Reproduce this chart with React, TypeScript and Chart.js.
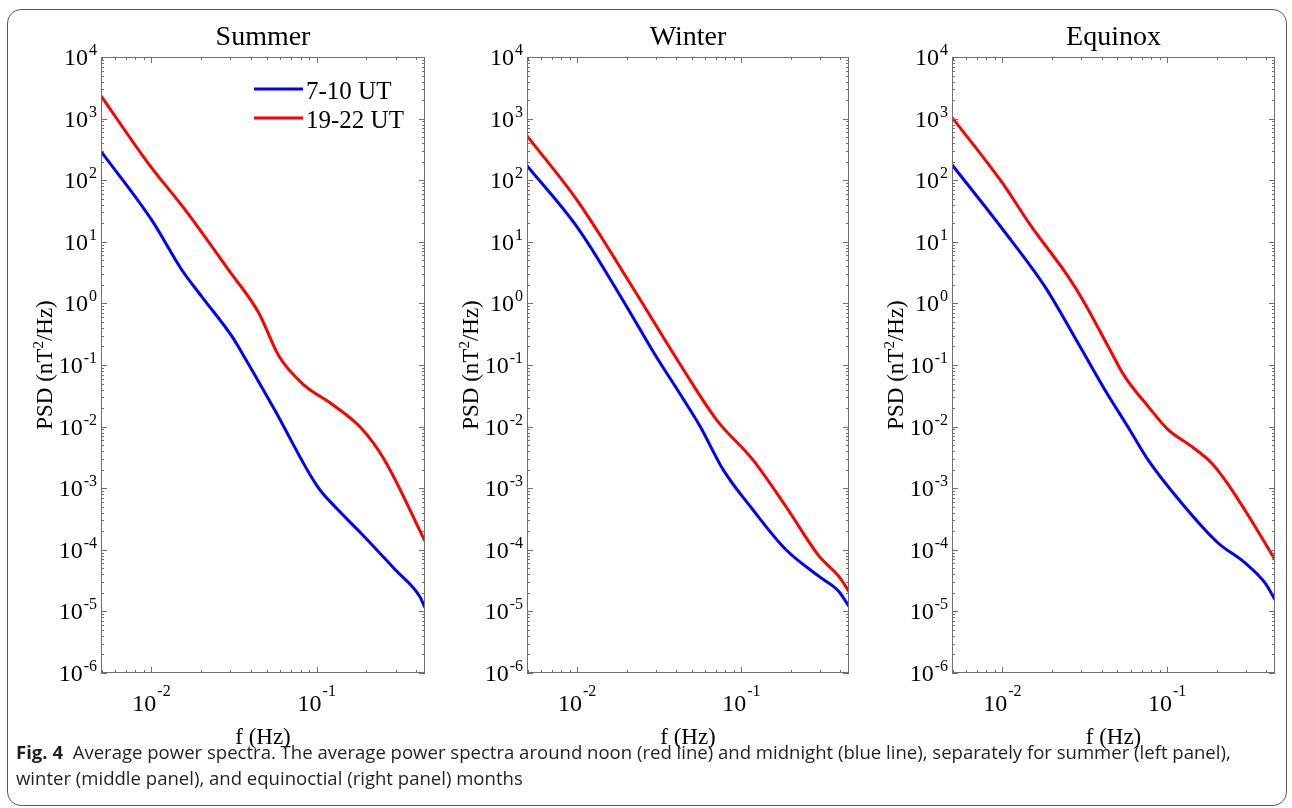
import React, { useEffect, useRef, useMemo } from "react";
import { Chart, registerables } from "chart.js";

Chart.register(...registerables);

// ---------------- data ----------------
const panelTitles = ["Summer", "Winter", "Equinox"];
const legendLabels = ["7-10 UT", "19-22 UT"];
const seriesColors = ["#0000ff", "#ff0000"];
const xAxisTitle = "f (Hz)";
const yAxisTitleParts = ["PSD (nT", "2", "/Hz)"];
const xTickExponents = [-2, -1];
const yTickExponents = [-6, -5, -4, -3, -2, -1, 0, 1, 2, 3, 4];
const xMin = 0.00495;
const xMax = 0.452;
const yMin = 1e-6;
const yMax = 1e4;

const summerBlueF = [0.00495, 0.01, 0.01524, 0.0201, 0.0307, 0.0353, 0.0556, 0.1009, 0.134, 0.1854, 0.3, 0.42, 0.452];
const summerBlueP = [294, 22.9, 3.52, 1.3, 0.291, 0.157, 0.0188, 1.07e-3, 4.5e-4, 1.86e-4, 4.7e-5, 1.75e-5, 1.15e-5];
const summerRedF = [0.00495, 0.00953, 0.01596, 0.0292, 0.0446, 0.059, 0.0818, 0.127, 0.185, 0.257, 0.452];
const summerRedP = [2344, 190, 33.2, 3.52, 0.7, 0.14, 0.05, 0.022, 0.00955, 0.00288, 1.38e-4];

const winterBlueF = [0.00495, 0.0101, 0.0189, 0.0293, 0.0445, 0.056, 0.0774, 0.1175, 0.187, 0.297, 0.392, 0.452];
const winterBlueP = [172, 16.7, 1.15, 0.158, 0.0274, 0.0101, 0.002, 4.47e-4, 1e-4, 3.7e-5, 2.11e-5, 1.2e-5];
const winterRedF = [0.00495, 0.0101, 0.0222, 0.0425, 0.0706, 0.1175, 0.187, 0.297, 0.392, 0.452];
const winterRedP = [525, 45.3, 1.67, 0.101, 0.0129, 0.00288, 5.0e-4, 7.9e-5, 3.7e-5, 2.1e-5];

const equinoxBlueF = [0.00495, 0.0101, 0.0181, 0.0288, 0.0419, 0.0593, 0.0767, 0.128, 0.204, 0.296, 0.393, 0.452];
const equinoxBlueP = [178, 15.7, 1.89, 0.228, 0.0398, 0.0089, 0.00288, 5.0e-4, 1.29e-4, 6.2e-5, 2.9e-5, 1.55e-5];
const equinoxRedF = [0.00495, 0.00986, 0.015, 0.02506, 0.0316, 0.0439, 0.0553, 0.0767, 0.1014, 0.1406, 0.186, 0.224, 0.296, 0.393, 0.452];
const equinoxRedP = [1050, 95.5, 17.8, 2.74, 1.01, 0.2, 0.0653, 0.0213, 0.00891, 0.00479, 0.00257, 0.00138, 4.47e-4, 1.29e-4, 6.9e-5];

const captionBold = "Fig. 4";
const captionLine1 =
  "Average power spectra. The average power spectra around noon (red line) and midnight (blue line), separately for summer (left panel),";
const captionLine2 = "winter (middle panel), and equinoctial (right panel) months";

// ---------------- layout ----------------
const W = 1292;
const H = 808;
const PLOT_TOP = 57;
const PLOT_BOTTOM = 673;
const panelLefts = [101, 527, 952];
const panelRights = [425, 849, 1275];
const AXIS_COLOR = "#707070";
const SERIF = '"Liberation Serif", "Times New Roman", serif';

const panels = [
  { blue: [summerBlueF, summerBlueP], red: [summerRedF, summerRedP] },
  { blue: [winterBlueF, winterBlueP], red: [winterRedF, winterRedP] },
  { blue: [equinoxBlueF, equinoxBlueP], red: [equinoxRedF, equinoxRedP] },
];

function toPoints(f: number[], p: number[]) {
  return f.map((x, i) => ({ x, y: p[i] }));
}

function drawPower(ctx: CanvasRenderingContext2D, exp: number, x: number, baseY: number, expY: number, align: "right" | "center") {
  ctx.textBaseline = "alphabetic";
  ctx.textAlign = "left";
  ctx.font = `24px ${SERIF}`;
  const wb = ctx.measureText("10").width;
  ctx.font = `16px ${SERIF}`;
  const es = String(exp);
  const we = ctx.measureText(es).width;
  const total = wb + we + 1;
  const sx = align === "right" ? x - total : x - total / 2;
  ctx.font = `24px ${SERIF}`;
  ctx.fillText("10", sx, baseY);
  ctx.font = `16px ${SERIF}`;
  ctx.fillText(es, sx + wb + 1, expY);
}

function makeDecorPlugin(index: number) {
  return {
    id: "matlabDecor" + index,
    afterDraw(chart: any) {
      const ctx: CanvasRenderingContext2D = chart.ctx;
      const { left, right, top, bottom } = chart.chartArea;
      const xs = chart.scales.x;
      const ys = chart.scales.y;
      ctx.save();
      // frame
      ctx.strokeStyle = AXIS_COLOR;
      ctx.lineWidth = 1;
      ctx.strokeRect(Math.round(left) + 0.5, Math.round(top) + 0.5, Math.round(right - left) - 1, Math.round(bottom - top) - 1);
      // y ticks
      ctx.beginPath();
      for (let k = -6; k <= 4; k++) {
        for (let m = 1; m <= 9; m++) {
          const v = m * Math.pow(10, k);
          if (v < yMin * 0.999 || v > yMax * 1.001) continue;
          const py = Math.round(ys.getPixelForValue(v)) + 0.5;
          const len = m === 1 ? 6 : 3;
          ctx.moveTo(left, py);
          ctx.lineTo(left + len, py);
          ctx.moveTo(right, py);
          ctx.lineTo(right - len, py);
        }
      }
      // x ticks
      for (let k = -3; k <= 0; k++) {
        for (let m = 1; m <= 9; m++) {
          const v = m * Math.pow(10, k);
          if (v < xMin || v > xMax) continue;
          const px = Math.round(xs.getPixelForValue(v)) + 0.5;
          const len = m === 1 ? 6 : 3;
          ctx.moveTo(px, bottom);
          ctx.lineTo(px, bottom - len);
          ctx.moveTo(px, top);
          ctx.lineTo(px, top + len);
        }
      }
      ctx.stroke();

      ctx.fillStyle = "#000";
      // y tick labels
      for (const e of yTickExponents) {
        const py = ys.getPixelForValue(Math.pow(10, e));
        drawPower(ctx, e, left - 4, py + 8, py - 2, "right");
      }
      // x tick labels
      for (const e of xTickExponents) {
        const px = xs.getPixelForValue(Math.pow(10, e));
        drawPower(ctx, e, px, bottom + 38, bottom + 23, "center");
      }
      // x axis title
      ctx.textAlign = "center";
      ctx.textBaseline = "alphabetic";
      ctx.font = `23px ${SERIF}`;
      ctx.fillText(xAxisTitle, (left + right) / 2, bottom + 71);
      // panel title
      ctx.font = `28px ${SERIF}`;
      ctx.fillText(panelTitles[index], (left + right) / 2, top - 12);
      // y axis title (rotated)
      ctx.save();
      ctx.translate(left - 49, (top + bottom) / 2);
      ctx.rotate(-Math.PI / 2);
      ctx.textAlign = "left";
      ctx.font = `23px ${SERIF}`;
      const w1 = ctx.measureText(yAxisTitleParts[0]).width;
      const w3 = ctx.measureText(yAxisTitleParts[2]).width;
      ctx.font = `15px ${SERIF}`;
      const w2 = ctx.measureText(yAxisTitleParts[1]).width;
      const tot = w1 + w2 + w3;
      let sx = -tot / 2;
      ctx.font = `23px ${SERIF}`;
      ctx.fillText(yAxisTitleParts[0], sx, 0);
      sx += w1;
      ctx.font = `15px ${SERIF}`;
      ctx.fillText(yAxisTitleParts[1], sx, -9);
      sx += w2;
      ctx.font = `23px ${SERIF}`;
      ctx.fillText(yAxisTitleParts[2], sx, 0);
      ctx.restore();

      // legend (first panel only)
      if (index === 0) {
        const lx0 = left + 153;
        const lx1 = left + 202;
        const rows = [top + 32, top + 61];
        ctx.lineWidth = 3;
        ctx.font = `25px ${SERIF}`;
        ctx.textAlign = "left";
        rows.forEach((ry, i) => {
          ctx.strokeStyle = seriesColors[i];
          ctx.beginPath();
          ctx.moveTo(lx0, ry);
          ctx.lineTo(lx1, ry);
          ctx.stroke();
          ctx.fillStyle = "#000";
          ctx.fillText(legendLabels[i], lx1 + 3, ry + 10);
        });
      }
      ctx.restore();
    },
  };
}

function Panel({ index }: { index: number }) {
  const ref = useRef<HTMLCanvasElement | null>(null);
  useEffect(() => {
    if (!ref.current) return;
    const p = panels[index];
    const common = {
      showLine: true,
      borderWidth: 3,
      pointRadius: 0,
      cubicInterpolationMode: "monotone",
      borderJoinStyle: "round",
    };
    const chart = new Chart(ref.current, {
      type: "scatter",
      data: {
        datasets: [
          {
            ...common,
            label: legendLabels[0],
            data: toPoints(p.blue[0], p.blue[1]),
            borderColor: seriesColors[0],
            backgroundColor: seriesColors[0],
          },
          {
            ...common,
            label: legendLabels[1],
            data: toPoints(p.red[0], p.red[1]),
            borderColor: seriesColors[1],
            backgroundColor: seriesColors[1],
          },
        ],
      },
      options: {
        animation: false,
        responsive: false,
        devicePixelRatio: 1,
        events: [],
        layout: {
          padding: {
            left: panelLefts[index],
            right: W - panelRights[index],
            top: PLOT_TOP,
            bottom: H - PLOT_BOTTOM,
          },
        },
        plugins: { legend: { display: false }, title: { display: false }, tooltip: { enabled: false } },
        scales: {
          x: { type: "logarithmic", min: xMin, max: xMax, display: false },
          y: { type: "logarithmic", min: yMin, max: yMax, display: false },
        },
      },
      plugins: [makeDecorPlugin(index)],
    } as any);
    return () => chart.destroy();
  }, [index]);
  return (
    <canvas
      ref={ref}
      width={W}
      height={H}
      style={{ position: "absolute", left: 0, top: 0, width: W, height: H, pointerEvents: "none" }}
    />
  );
}

export default function App() {
  const capFont = '"Open Sans", "Noto Sans", sans-serif';
  const fontSize = useMemo(() => {
    const c = document.createElement("canvas");
    const ctx = c.getContext("2d");
    if (!ctx) return 15.5;
    ctx.font = `bold 100px ${capFont}`;
    const wb = ctx.measureText(captionBold).width;
    ctx.font = `100px ${capFont}`;
    const wr = ctx.measureText("\u00a0\u00a0" + captionLine1).width;
    const target = 1232 - 16;
    return (target / (wb + wr)) * 100;
  }, []);
  return (
    <div style={{ position: "absolute", left: 0, top: 0, width: W, height: H, overflow: "hidden", background: "#fff" }}>
      <div
        style={{
          position: "absolute",
          left: 7,
          top: 9,
          width: 1280,
          height: 797,
          boxSizing: "border-box",
          border: "1.5px solid #5a5a5a",
          borderRadius: 14,
        }}
      />
      {[0, 1, 2].map((i) => (
        <Panel key={i} index={i} />
      ))}
      <div
        style={{
          position: "absolute",
          left: 16,
          top: 739,
          fontFamily: capFont,
          fontSize: fontSize,
          lineHeight: "26px",
          whiteSpace: "nowrap",
          color: "#231f20",
        }}
      >
        <b>{captionBold}</b>
        {"\u00a0\u00a0" + captionLine1}
        <br />
        {captionLine2}
      </div>
    </div>
  );
}
